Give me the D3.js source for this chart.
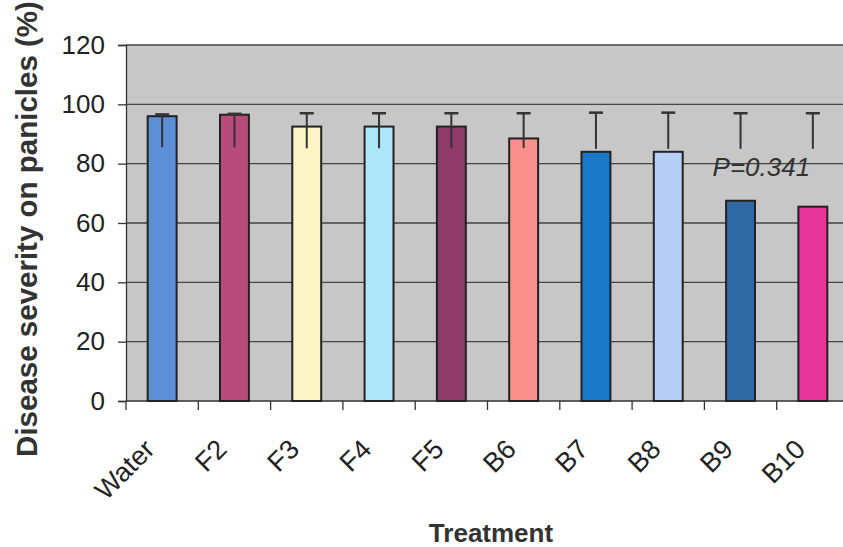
<!DOCTYPE html>
<html>
<head>
<meta charset="utf-8">
<script src="https://cdn.jsdelivr.net/npm/d3@7"></script>
<style>
  body { margin: 0; background: #fff; }
  svg { display: block; font-family: "Liberation Sans", Arial, sans-serif; }
</style>
</head>
<body>
<script>
// Disease severity bar chart

// data
const treatments = ['Water', 'F2', 'F3', 'F4', 'F5', 'B6', 'B7', 'B8', 'B9', 'B10'];
const severity = [96, 96.5, 92.5, 92.5, 92.5, 88.5, 84, 84, 67.5, 65.5];
const errLow = [85.5, 85.5, 85.2, 85.2, 85.2, 85.3, 85, 85, 85, 85];
const errHigh = [96.6, 96.8, 97, 97, 97, 97, 97.2, 97.2, 97, 97];
const barColors = ['#5b8fd8', '#b84b7a', '#fbf5c6', '#aee6f9', '#8f3a69',
                   '#fb8f8b', '#1a78c9', '#b5cff6', '#2f69a3', '#e8359b'];
const yTicks = [0, 20, 40, 60, 80, 100, 120];
const pLabel = 'P=0.341';

const W = 843, H = 547;
const margin = { left: 126, top: 45, right: 849, bottom: 401 };

const svg = d3.select('body').append('svg')
  .attr('width', W)
  .attr('height', H);

const x = d3.scaleBand()
  .domain(treatments)
  .range([margin.left, margin.right])
  .paddingInner(0.6)
  .paddingOuter(0.3);

const y = d3.scaleLinear()
  .domain([0, 120])
  .range([margin.bottom, margin.top]);

// plot area background
svg.append('rect')
  .attr('x', margin.left)
  .attr('y', margin.top)
  .attr('width', margin.right - margin.left)
  .attr('height', margin.bottom - margin.top)
  .attr('fill', '#c7c7c7');

// gridlines
svg.append('g')
  .selectAll('line')
  .data(yTicks.filter(d => d > 0))
  .enter()
  .append('line')
  .attr('x1', margin.left)
  .attr('x2', margin.right)
  .attr('y1', d => y(d))
  .attr('y2', d => y(d))
  .attr('stroke', '#454545')
  .attr('stroke-width', 1.3);

// y axis
const yAxis = svg.append('g')
  .attr('transform', `translate(${margin.left},0)`)
  .call(d3.axisLeft(y).tickValues(yTicks).tickSize(8).tickPadding(13));
yAxis.select('.domain').attr('stroke', '#333').attr('stroke-width', 1.3);
yAxis.selectAll('.tick line').attr('stroke', '#333').attr('stroke-width', 1.3);
yAxis.selectAll('.tick text')
  .attr('font-size', 26)
  .attr('font-family', '"Liberation Sans", Arial, sans-serif')
  .attr('fill', '#222');

// x axis (ticks on band boundaries)
const xAxisG = svg.append('g');
xAxisG.append('line')
  .attr('x1', margin.left)
  .attr('x2', margin.right)
  .attr('y1', y(0))
  .attr('y2', y(0))
  .attr('stroke', '#333')
  .attr('stroke-width', 1.3);
xAxisG.selectAll('.xt')
  .data(treatments)
  .enter()
  .append('line')
  .attr('class', 'xt')
  .attr('x1', d => x(d) - x.step() * x.paddingInner() / 2)
  .attr('x2', d => x(d) - x.step() * x.paddingInner() / 2)
  .attr('y1', y(0))
  .attr('y2', y(0) + 9)
  .attr('stroke', '#333')
  .attr('stroke-width', 1.3);

xAxisG.selectAll('.xl')
  .data(treatments)
  .enter()
  .append('text')
  .attr('class', 'xl')
  .attr('transform', d => `translate(${x(d) + x.bandwidth() / 2 - 6},${y(0) + 50}) rotate(-45)`)
  .attr('text-anchor', 'end')
  .attr('font-size', 27)
  .attr('fill', '#222')
  .text(d => d);

// bars
const data = treatments.map((t, i) => ({
  t, v: severity[i], lo: errLow[i], hi: errHigh[i], c: barColors[i]
}));

svg.append('g')
  .selectAll('rect')
  .data(data)
  .enter()
  .append('rect')
  .attr('x', d => x(d.t))
  .attr('y', d => y(d.v))
  .attr('width', x.bandwidth())
  .attr('height', d => y(0) - y(d.v))
  .attr('fill', d => d.c)
  .attr('stroke', '#222')
  .attr('stroke-width', 2);

// error bars
const eb = svg.append('g')
  .attr('stroke', '#333')
  .attr('stroke-width', 2);

eb.selectAll('.whisker')
  .data(data)
  .enter()
  .append('line')
  .attr('x1', d => x(d.t) + x.bandwidth() / 2)
  .attr('x2', d => x(d.t) + x.bandwidth() / 2)
  .attr('y1', d => y(d.lo))
  .attr('y2', d => y(d.hi));

eb.selectAll('.cap')
  .data(data)
  .enter()
  .append('line')
  .attr('x1', d => x(d.t) + x.bandwidth() / 2 - 7)
  .attr('x2', d => x(d.t) + x.bandwidth() / 2 + 7)
  .attr('y1', d => y(d.hi))
  .attr('y2', d => y(d.hi))
  .attr('stroke-width', 2.5);

// P value note
svg.append('text')
  .attr('x', x('B9') + x.bandwidth() / 2 - 28)
  .attr('y', y(76))
  .attr('font-size', 26)
  .attr('font-style', 'italic')
  .attr('fill', '#333')
  .text(pLabel);

// axis titles
svg.append('text')
  .attr('transform', `translate(37,${229}) rotate(-90)`)
  .attr('text-anchor', 'middle')
  .attr('font-size', 29.5)
  .attr('font-weight', 'bold')
  .attr('fill', '#333')
  .text('Disease severity on panicles (%)');

svg.append('text')
  .attr('x', 491)
  .attr('y', 542)
  .attr('text-anchor', 'middle')
  .attr('font-size', 26)
  .attr('font-weight', 'bold')
  .attr('fill', '#333')
  .text('Treatment');
</script>
</body>
</html>
